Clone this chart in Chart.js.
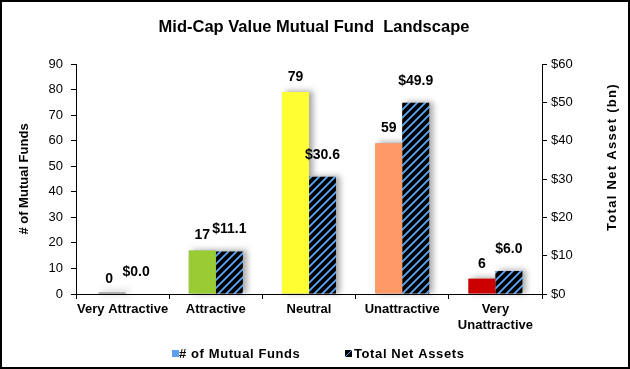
<!DOCTYPE html>
<html>
<head>
<meta charset="utf-8">
<script src="https://cdn.jsdelivr.net/npm/chart.js@4.4.0/dist/chart.umd.min.js"></script>
<style>
html,body{margin:0;padding:0;background:#fff;}
#wrap{width:630px;height:369px;}
</style>
</head>
<body>
<div id="wrap"><canvas id="c" width="630" height="369"></canvas></div>
<script>
const categories = ['Very Attractive', 'Attractive', 'Neutral', 'Unattractive', ['Very', 'Unattractive']];
const fundCounts = [0, 17, 79, 59, 6];
const netAssets = [0.0, 11.1, 30.6, 49.9, 6.0];
const fundTicks = [0, 10, 20, 30, 40, 50, 60, 70, 80, 90];
const assetTicks = [0, 10, 20, 30, 40, 50, 60];
const seriesNames = ['# of Mutual Funds', 'Total Net Assets'];

const barColors = ['#9a9a9a', '#99cc33', '#ffff33', '#ff9966', '#cc0000'];
const FONT = '"Liberation Sans", Arial, sans-serif';

function makeHatch() {
  const s = 8;
  const p = document.createElement('canvas');
  p.width = s; p.height = s;
  const g = p.getContext('2d');
  g.fillStyle = '#000';
  g.fillRect(0, 0, s, s);
  g.strokeStyle = '#5aa8ff';
  g.lineWidth = 1.8;
  g.beginPath();
  g.moveTo(-2, s + 2); g.lineTo(s + 2, -2);
  g.moveTo(-2, 2); g.lineTo(2, -2);
  g.moveTo(s - 2, s + 2); g.lineTo(s + 2, s - 2);
  g.stroke();
  return document.getElementById('c').getContext('2d').createPattern(p, 'repeat');
}
const hatch = makeHatch();

const shadowPlugin = {
  id: 'barShadow',
  beforeDatasetsDraw(chart) {
    const ctx = chart.ctx;
    ctx.save();
    ctx.shadowColor = 'rgba(0,0,0,0.35)';
    ctx.shadowBlur = 6;
    ctx.shadowOffsetX = 4;
    ctx.shadowOffsetY = -1;
    ctx.fillStyle = '#b0b0b0';
    chart.data.datasets.forEach((ds, di) => {
      const meta = chart.getDatasetMeta(di);
      meta.data.forEach((el, i) => {
        const v = ds.data[i];
        const w = el.width;
        const h = el.base - el.y;
        if (v === 0 && di === 1) return;
        if (h < 1) {
          ctx.fillRect(el.x - w / 2 + 3, el.base - 2, w, 2);
        } else {
          ctx.fillRect(el.x - w / 2, el.y, w, h);
        }
      });
    });
    ctx.restore();
  }
};

const labelPlugin = {
  id: 'valueLabels',
  afterDatasetsDraw(chart) {
    const ctx = chart.ctx;
    ctx.save();
    ctx.font = 'bold 14px ' + FONT;
    ctx.fillStyle = '#000';
    ctx.textAlign = 'center';
    ctx.textBaseline = 'middle';
    chart.data.datasets.forEach((ds, di) => {
      const meta = chart.getDatasetMeta(di);
      meta.data.forEach((el, i) => {
        const v = ds.data[i];
        const txt = di === 0 ? String(v) : '$' + v.toFixed(1);
        const off = di === 0 ? 15 : 22;
        ctx.fillText(txt, el.x, el.y - off);
      });
    });
    ctx.restore();
  }
};

const decorPlugin = {
  id: 'decor',
  afterDraw(chart) {
    const ctx = chart.ctx;
    ctx.save();
    // title
    ctx.fillStyle = '#000';
    ctx.font = 'bold 16.5px ' + FONT;
    ctx.textAlign = 'center';
    ctx.textBaseline = 'middle';
    ctx.fillText('Mid-Cap Value Mutual Fund  Landscape', 314, 27);
    // right axis title (reads bottom to top)
    ctx.save();
    ctx.translate(612, 157);
    ctx.rotate(-Math.PI / 2);
    ctx.font = 'bold 13px ' + FONT;
    ctx.letterSpacing = '1.3px';
    ctx.fillText('Total Net Asset (bn)', 0, 0);
    ctx.restore();
    // legend
    ctx.font = 'bold 13px ' + FONT;
    ctx.letterSpacing = '0.6px';
    ctx.textAlign = 'left';
    ctx.textBaseline = 'middle';
    const ly = 354;
    ctx.fillStyle = '#5aa0ee';
    ctx.fillRect(172, ly - 4, 7, 7);
    ctx.fillStyle = '#000';
    ctx.fillText(seriesNames[0], 179, ly);
    ctx.fillStyle = '#000';
    ctx.fillRect(345, ly - 4, 7, 7);
    ctx.strokeStyle = '#66aaff';
    ctx.lineWidth = 1;
    ctx.beginPath(); ctx.moveTo(345, ly + 3); ctx.lineTo(352, ly - 4); ctx.stroke();
    ctx.fillStyle = '#000';
    ctx.fillText(seriesNames[1], 354, ly);
    ctx.letterSpacing = '0px';
    // outer border
    ctx.strokeStyle = '#000';
    ctx.lineWidth = 2;
    ctx.strokeRect(1, 1, 628, 367);
    ctx.restore();
  }
};

new Chart(document.getElementById('c'), {
  type: 'bar',
  data: {
    labels: categories,
    datasets: [
      {
        label: seriesNames[0],
        data: fundCounts,
        backgroundColor: barColors,
        yAxisID: 'y',
        categoryPercentage: 0.58,
        barPercentage: 1.0,
        borderWidth: 0
      },
      {
        label: seriesNames[1],
        data: netAssets,
        backgroundColor: hatch,
        yAxisID: 'y1',
        categoryPercentage: 0.58,
        barPercentage: 1.0,
        borderWidth: 0
      }
    ]
  },
  options: {
    responsive: false,
    animation: false,
    devicePixelRatio: 1,
    layout: { padding: { top: 64, left: 0, right: 0, bottom: 0 } },
    plugins: {
      legend: { display: false },
      title: { display: false },
      tooltip: { enabled: false }
    },
    scales: {
      x: {
        grid: { display: true, drawOnChartArea: false, offset: true, tickLength: 5, color: '#000', lineWidth: 1 },
        border: { display: true, color: '#000', width: 1 },
        ticks: { color: '#000', font: { family: FONT, size: 13, weight: 'bold' }, padding: 3, maxRotation: 0, autoSkip: false },
        afterFit(scale) { scale.height = 75; }
      },
      y: {
        position: 'left',
        min: 0, max: 90,
        afterBuildTicks(scale) { scale.ticks = fundTicks.map(v => ({ value: v })); },
        grid: { display: true, drawOnChartArea: false, tickLength: 5, color: '#000' },
        border: { display: true, color: '#000', width: 1 },
        ticks: { color: '#000', font: { family: FONT, size: 13 }, padding: 8 },
        title: { display: true, text: seriesNames[0], color: '#000', font: { family: FONT, size: 13, weight: 'bold' }, padding: { top: 17, bottom: 0 } },
        afterFit(scale) { scale.width = 76; }
      },
      y1: {
        position: 'right',
        min: 0, max: 60,
        afterBuildTicks(scale) { scale.ticks = assetTicks.map(v => ({ value: v })); },
        grid: { display: true, drawOnChartArea: false, tickLength: 5, color: '#000' },
        border: { display: true, color: '#000', width: 1 },
        ticks: { color: '#000', font: { family: FONT, size: 13 }, padding: 4, callback: v => '$' + v },
        afterFit(scale) { scale.width = 88; }
      }
    }
  },
  plugins: [shadowPlugin, labelPlugin, decorPlugin]
});
</script>
</body>
</html>
